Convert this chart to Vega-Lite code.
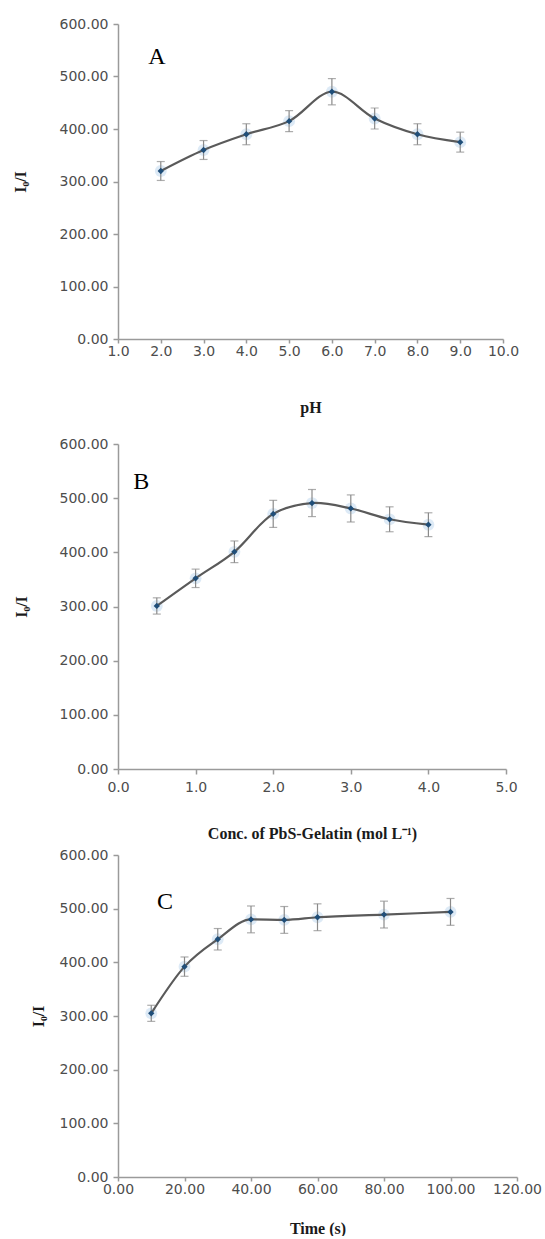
{
  "$schema": "https://vega.github.io/schema/vega-lite/v6.json",
  "padding": {"left": 12, "top": 17, "right": 5, "bottom": 0},
  "background": "white",
  "config": {
    "view": {"stroke": null},
    "axis": {
      "grid": false,
      "domainColor": "#9a9a9a",
      "tickColor": "#9a9a9a",
      "domainWidth": 1.5,
      "tickWidth": 1.5,
      "labelColor": "#4d4d4d",
      "labelFont": "DejaVu Sans",
      "labelFontSize": 14,
      "labelFlush": false,
      "labelOverlap": false,
      "titleFont": "Liberation Serif",
      "titleFontWeight": "bold",
      "titleFontSize": 16,
      "titleColor": "#1a1a1a"
    }
  },
  "datasets": {
    "A": [
      {"x": 2, "y": 320, "lo": 302, "hi": 338},
      {"x": 3, "y": 360, "lo": 342, "hi": 378},
      {"x": 4, "y": 390, "lo": 370, "hi": 410},
      {"x": 5, "y": 415, "lo": 395, "hi": 435},
      {"x": 6, "y": 471, "lo": 446, "hi": 496},
      {"x": 7, "y": 420, "lo": 400, "hi": 440},
      {"x": 8, "y": 390, "lo": 370, "hi": 410},
      {"x": 9, "y": 375, "lo": 356, "hi": 394}
    ],
    "B": [
      {"x": 0.5, "y": 301, "lo": 286, "hi": 316},
      {"x": 1.0, "y": 352, "lo": 335, "hi": 369},
      {"x": 1.5, "y": 401, "lo": 381, "hi": 421},
      {"x": 2.0, "y": 471, "lo": 446, "hi": 496},
      {"x": 2.5, "y": 491, "lo": 466, "hi": 516},
      {"x": 3.0, "y": 481, "lo": 456, "hi": 506},
      {"x": 3.5, "y": 461, "lo": 438, "hi": 484},
      {"x": 4.0, "y": 451, "lo": 429, "hi": 473}
    ],
    "C": [
      {"x": 10, "y": 305, "lo": 290, "hi": 320},
      {"x": 20, "y": 392, "lo": 374, "hi": 410},
      {"x": 30, "y": 443, "lo": 423, "hi": 463},
      {"x": 40, "y": 480, "lo": 455, "hi": 505},
      {"x": 50, "y": 479, "lo": 454, "hi": 504},
      {"x": 60, "y": 484, "lo": 459, "hi": 509},
      {"x": 80, "y": 489, "lo": 464, "hi": 514},
      {"x": 100, "y": 494, "lo": 469, "hi": 519}
    ],
    "LA": [{"x": 1.91, "y": 537, "label": "A"}],
    "LB": [{"x": 0.3, "y": 530, "label": "B"}],
    "LC": [{"x": 14.1, "y": 512, "label": "C"}]
  },
  "spacing": 7,
  "vconcat": [
    {
      "spacing": 22,
      "vconcat": [
        {
          "width": 385,
          "height": 315,
          "encoding": {
            "x": {"field": "x", "type": "quantitative",
              "scale": {"domain": [1, 10], "nice": false, "zero": false},
              "axis": {"title": "pH", "values": [1,2,3,4,5,6,7,8,9,10], "format": ".1f", "tickSize": 4, "labelPadding": 1, "titlePadding": 41}}
          },
          "layer": [
            {"data": {"name": "A"}, "mark": {"type": "point", "filled": true, "shape": "circle", "color": "#9dc3e6", "opacity": 0.35, "size": 140},
             "encoding": {"y": {"field": "y", "type": "quantitative", "scale": {"domain": [0, 600], "nice": false}, "axis": {"title": "I₀/I", "values": [0,100,200,300,400,500,600], "format": ".2f", "tickSize": 5, "labelPadding": 5, "titlePadding": 31}}}},
            {"data": {"name": "A"}, "mark": {"type": "rule", "color": "#8a8a8a", "strokeWidth": 1.2},
             "encoding": {"y": {"field": "lo", "type": "quantitative", "axis": {"title": "I₀/I", "values": [0,100,200,300,400,500,600], "format": ".2f", "tickSize": 5, "labelPadding": 5, "titlePadding": 31}}, "y2": {"field": "hi"}}},
            {"data": {"name": "A"}, "mark": {"type": "tick", "orient": "horizontal", "color": "#8a8a8a", "size": 8, "thickness": 1.2},
             "encoding": {"y": {"field": "lo", "type": "quantitative", "axis": {"title": "I₀/I", "values": [0,100,200,300,400,500,600], "format": ".2f", "tickSize": 5, "labelPadding": 5, "titlePadding": 31}}}},
            {"data": {"name": "A"}, "mark": {"type": "tick", "orient": "horizontal", "color": "#8a8a8a", "size": 8, "thickness": 1.2},
             "encoding": {"y": {"field": "hi", "type": "quantitative", "axis": {"title": "I₀/I", "values": [0,100,200,300,400,500,600], "format": ".2f", "tickSize": 5, "labelPadding": 5, "titlePadding": 31}}}},
            {"data": {"name": "A"}, "mark": {"type": "line", "color": "#5a5a5a", "strokeWidth": 2.2, "interpolate": "catmull-rom"},
             "encoding": {"y": {"field": "y", "type": "quantitative", "axis": {"title": "I₀/I", "values": [0,100,200,300,400,500,600], "format": ".2f", "tickSize": 5, "labelPadding": 5, "titlePadding": 31}}}},
            {"data": {"name": "A"}, "mark": {"type": "point", "filled": true, "shape": "diamond", "color": "#1f4e79", "opacity": 1, "size": 40},
             "encoding": {"y": {"field": "y", "type": "quantitative", "axis": {"title": "I₀/I", "values": [0,100,200,300,400,500,600], "format": ".2f", "tickSize": 5, "labelPadding": 5, "titlePadding": 31}}}},
            {"data": {"name": "LA"}, "mark": {"type": "text", "font": "Liberation Serif", "fontSize": 24, "color": "#000000", "align": "center", "baseline": "middle"},
             "encoding": {"y": {"field": "y", "type": "quantitative", "axis": {"title": "I₀/I", "values": [0,100,200,300,400,500,600], "format": ".2f", "tickSize": 5, "labelPadding": 5, "titlePadding": 31}}, "text": {"field": "label"}}}
          ]
        },
        {
          "width": 388,
          "height": 325,
          "encoding": {
            "x": {"field": "x", "type": "quantitative",
              "scale": {"domain": [0, 5], "nice": false, "zero": false},
              "axis": {"title": "Conc. of  PbS-Gelatin (mol L⁻¹)", "values": [0,1,2,3,4,5], "format": ".1f", "tickSize": 5, "labelPadding": 6, "titlePadding": 31}}
          },
          "layer": [
            {"data": {"name": "B"}, "mark": {"type": "point", "filled": true, "shape": "circle", "color": "#9dc3e6", "opacity": 0.35, "size": 140},
             "encoding": {"y": {"field": "y", "type": "quantitative", "scale": {"domain": [0, 600], "nice": false}, "axis": {"title": "I₀/I", "values": [0,100,200,300,400,500,600], "format": ".2f", "tickSize": 5, "labelPadding": 5, "titlePadding": 30}}}},
            {"data": {"name": "B"}, "mark": {"type": "rule", "color": "#8a8a8a", "strokeWidth": 1.2},
             "encoding": {"y": {"field": "lo", "type": "quantitative", "axis": {"title": "I₀/I", "values": [0,100,200,300,400,500,600], "format": ".2f", "tickSize": 5, "labelPadding": 5, "titlePadding": 30}}, "y2": {"field": "hi"}}},
            {"data": {"name": "B"}, "mark": {"type": "tick", "orient": "horizontal", "color": "#8a8a8a", "size": 8, "thickness": 1.2},
             "encoding": {"y": {"field": "lo", "type": "quantitative", "axis": {"title": "I₀/I", "values": [0,100,200,300,400,500,600], "format": ".2f", "tickSize": 5, "labelPadding": 5, "titlePadding": 30}}}},
            {"data": {"name": "B"}, "mark": {"type": "tick", "orient": "horizontal", "color": "#8a8a8a", "size": 8, "thickness": 1.2},
             "encoding": {"y": {"field": "hi", "type": "quantitative", "axis": {"title": "I₀/I", "values": [0,100,200,300,400,500,600], "format": ".2f", "tickSize": 5, "labelPadding": 5, "titlePadding": 30}}}},
            {"data": {"name": "B"}, "mark": {"type": "line", "color": "#5a5a5a", "strokeWidth": 2.2, "interpolate": "catmull-rom"},
             "encoding": {"y": {"field": "y", "type": "quantitative", "axis": {"title": "I₀/I", "values": [0,100,200,300,400,500,600], "format": ".2f", "tickSize": 5, "labelPadding": 5, "titlePadding": 30}}}},
            {"data": {"name": "B"}, "mark": {"type": "point", "filled": true, "shape": "diamond", "color": "#1f4e79", "opacity": 1, "size": 40},
             "encoding": {"y": {"field": "y", "type": "quantitative", "axis": {"title": "I₀/I", "values": [0,100,200,300,400,500,600], "format": ".2f", "tickSize": 5, "labelPadding": 5, "titlePadding": 30}}}},
            {"data": {"name": "LB"}, "mark": {"type": "text", "font": "Liberation Serif", "fontSize": 24, "color": "#000000", "align": "center", "baseline": "middle"},
             "encoding": {"y": {"field": "y", "type": "quantitative", "axis": {"title": "I₀/I", "values": [0,100,200,300,400,500,600], "format": ".2f", "tickSize": 5, "labelPadding": 5, "titlePadding": 30}}, "text": {"field": "label"}}}
          ]
        }
      ]
    },
    {
      "width": 399,
      "height": 322,
      "encoding": {
        "x": {"field": "x", "type": "quantitative",
          "scale": {"domain": [0, 120], "nice": false, "zero": false},
          "axis": {"title": "Time (s)", "values": [0,20,40,60,80,100,120], "format": ".2f", "tickSize": 4, "labelPadding": 1, "titlePadding": 24}}
      },
      "layer": [
        {"data": {"name": "C"}, "mark": {"type": "point", "filled": true, "shape": "circle", "color": "#9dc3e6", "opacity": 0.35, "size": 140},
         "encoding": {"y": {"field": "y", "type": "quantitative", "scale": {"domain": [0, 600], "nice": false}, "axis": {"title": "I₀/I", "values": [0,100,200,300,400,500,600], "format": ".2f", "tickSize": 5, "labelPadding": 5, "titlePadding": 13}}}},
        {"data": {"name": "C"}, "mark": {"type": "rule", "color": "#8a8a8a", "strokeWidth": 1.2},
         "encoding": {"y": {"field": "lo", "type": "quantitative", "axis": {"title": "I₀/I", "values": [0,100,200,300,400,500,600], "format": ".2f", "tickSize": 5, "labelPadding": 5, "titlePadding": 13}}, "y2": {"field": "hi"}}},
        {"data": {"name": "C"}, "mark": {"type": "tick", "orient": "horizontal", "color": "#8a8a8a", "size": 8, "thickness": 1.2},
         "encoding": {"y": {"field": "lo", "type": "quantitative", "axis": {"title": "I₀/I", "values": [0,100,200,300,400,500,600], "format": ".2f", "tickSize": 5, "labelPadding": 5, "titlePadding": 13}}}},
        {"data": {"name": "C"}, "mark": {"type": "tick", "orient": "horizontal", "color": "#8a8a8a", "size": 8, "thickness": 1.2},
         "encoding": {"y": {"field": "hi", "type": "quantitative", "axis": {"title": "I₀/I", "values": [0,100,200,300,400,500,600], "format": ".2f", "tickSize": 5, "labelPadding": 5, "titlePadding": 13}}}},
        {"data": {"name": "C"}, "mark": {"type": "line", "color": "#5a5a5a", "strokeWidth": 2.2, "interpolate": "monotone"},
         "encoding": {"y": {"field": "y", "type": "quantitative", "axis": {"title": "I₀/I", "values": [0,100,200,300,400,500,600], "format": ".2f", "tickSize": 5, "labelPadding": 5, "titlePadding": 13}}}},
        {"data": {"name": "C"}, "mark": {"type": "point", "filled": true, "shape": "diamond", "color": "#1f4e79", "opacity": 1, "size": 40},
         "encoding": {"y": {"field": "y", "type": "quantitative", "axis": {"title": "I₀/I", "values": [0,100,200,300,400,500,600], "format": ".2f", "tickSize": 5, "labelPadding": 5, "titlePadding": 13}}}},
        {"data": {"name": "LC"}, "mark": {"type": "text", "font": "Liberation Serif", "fontSize": 24, "color": "#000000", "align": "center", "baseline": "middle"},
         "encoding": {"y": {"field": "y", "type": "quantitative", "axis": {"title": "I₀/I", "values": [0,100,200,300,400,500,600], "format": ".2f", "tickSize": 5, "labelPadding": 5, "titlePadding": 13}}, "text": {"field": "label"}}}
      ]
    }
  ]
}
